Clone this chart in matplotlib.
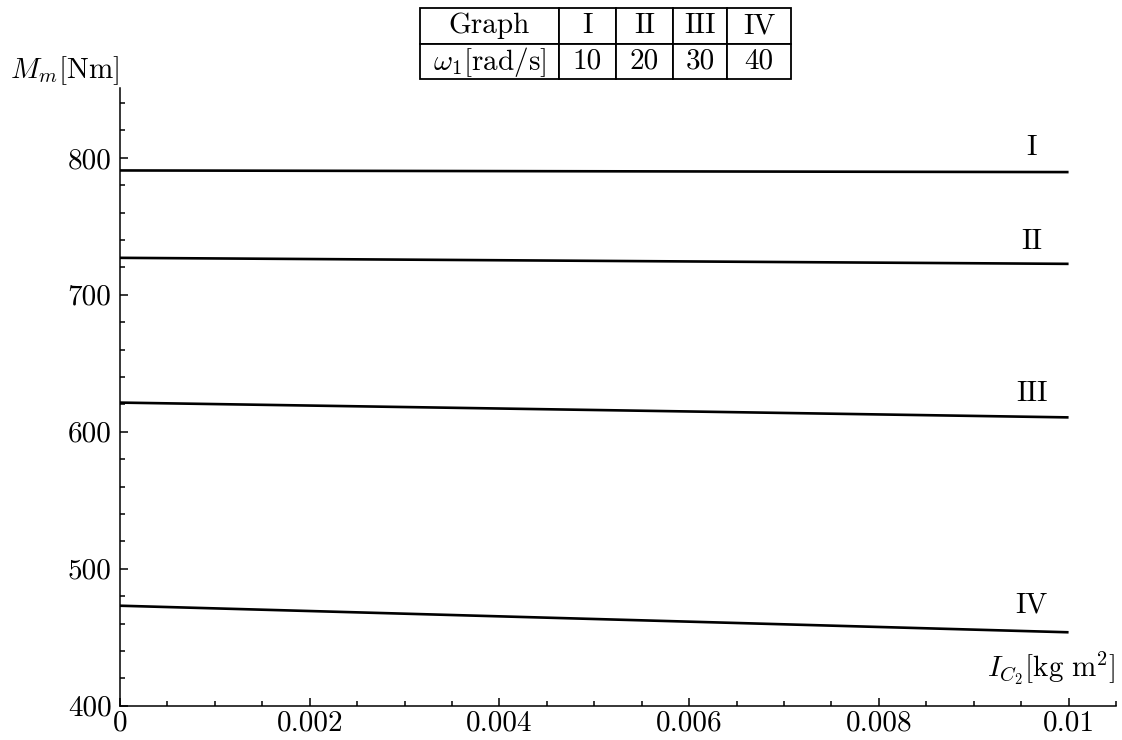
import numpy as np
import matplotlib
matplotlib.use("Agg")
import matplotlib.pyplot as plt
from matplotlib.ticker import MultipleLocator, FuncFormatter

plt.rcParams['font.family'] = 'serif'
plt.rcParams['font.serif'] = ['cmr10', 'DejaVu Serif']
plt.rcParams['mathtext.fontset'] = 'cm'
plt.rcParams['axes.unicode_minus'] = False
plt.rcParams['axes.formatter.use_mathtext'] = True

FS = 21

# moment of inertia I_C2 [kg m^2]
inertia = [0.0, 0.005, 0.01]
# drive torque M_m [Nm] for each graph
graph_names = ['I', 'II', 'III', 'IV']
omega_vals = ['10', '20', '30', '40']
torque_I = [790.8, 790.2, 789.6]
torque_II = [727.0, 724.8, 722.6]
torque_III = [621.3, 615.9, 610.5]
torque_IV = [473.0, 463.3, 453.6]
label_y = [807, 739, 628, 473]

fig = plt.figure(figsize=(11.22, 7.4), dpi=100)
ax = fig.add_axes([120/1122, 34.3/740, 996/1122, 617.7/740])

for ys in [torque_I, torque_II, torque_III, torque_IV]:
    ax.plot(inertia, ys, color='black', lw=1.9, solid_capstyle='butt')

for name, ly in zip(graph_names, label_y):
    ax.text(0.00961, ly, name, ha='center', va='center', fontsize=FS)

ax.set_xlim(0, 0.0105)
ax.set_ylim(400, 851)
for s in ['top', 'right']:
    ax.spines[s].set_visible(False)
for s in ['left', 'bottom']:
    ax.spines[s].set_linewidth(1.1)

ax.xaxis.set_major_locator(MultipleLocator(0.002))
ax.xaxis.set_minor_locator(MultipleLocator(0.0005))
ax.yaxis.set_major_locator(MultipleLocator(100))
ax.yaxis.set_minor_locator(MultipleLocator(20))
ax.xaxis.set_major_formatter(FuncFormatter(lambda v, p: f'{v:g}'))
ax.yaxis.set_major_formatter(FuncFormatter(lambda v, p: f'{v:g}'))
ax.tick_params(which='both', direction='in', width=1.1, labelsize=FS)
ax.tick_params(which='major', length=5.5)
ax.tick_params(which='minor', length=3.5)
ax.tick_params(axis='y', pad=6)
ax.tick_params(axis='x', pad=3)

fig.text(10/1122, 1 - 71/740, r'$M_m[\mathrm{Nm}]$', ha='left', va='center', fontsize=FS)
fig.text(1116/1122, 1 - 668/740, r'$I_{C_2}[\mathrm{kg\ m}^2]$', ha='right', va='center', fontsize=FS)

# parameter table
tab_ax = fig.add_axes([420/1122, 1 - 79.3/740, 370.7/1122, 71/740])
tab_ax.axis('off')
widths = np.array([139, 57, 56.7, 54.6, 63.4])
tbl = tab_ax.table(cellText=[['Graph'] + graph_names,
                             [r'$\omega_1[\mathrm{rad/s}]$'] + omega_vals],
                   cellLoc='center', bbox=[0, 0, 1, 1],
                   colWidths=list(widths / widths.sum()))
tbl.auto_set_font_size(False)
tbl.set_fontsize(FS)
for cell in tbl.get_celld().values():
    cell.set_linewidth(1.3)
    cell.set_edgecolor('black')

fig.savefig('out.png', dpi=100)
